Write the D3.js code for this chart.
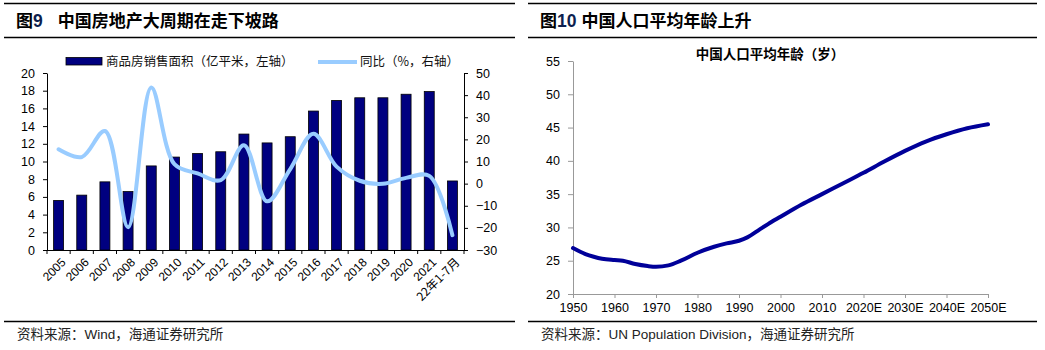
<!DOCTYPE html>
<html><head><meta charset="utf-8">
<script src="https://cdn.jsdelivr.net/npm/d3@7"></script>
<style>
body{margin:0;background:#fff;}
svg{display:block;}
text{font-family:"Liberation Sans",Arial,sans-serif;}
.cjk{font-family:"Noto Sans CJK SC","Liberation Sans",sans-serif;}
</style></head><body>
<svg id="c" width="1045" height="350"></svg>
<script>
// ---------- data ----------
const categories = ["2005","2006","2007","2008","2009","2010","2011","2012","2013","2014","2015","2016","2017","2018","2019","2020","2021","22年1-7月"];
const salesArea = [5.6,6.2,7.7,6.6,9.5,10.5,10.9,11.1,13.1,12.1,12.8,15.7,16.9,17.2,17.2,17.6,17.9,7.8];
const yoy = [15.5,12.0,23.8,-19.7,43.5,8.8,4.6,1.6,17.3,-8.0,6.6,22.5,7.7,1.3,-0.1,2.6,3.5,-23.3];
const leftTicks = [0,2,4,6,8,10,12,14,16,18,20];
const rightTicks = [-30,-20,-10,0,10,20,30,40,50];

const ageYears = [1950,1953,1955,1957,1960,1962,1965,1968,1970,1973,1976,1980,1984,1987,1990,1992,1995,1997,2000,2005,2010,2015,2020,2025,2030,2035,2040,2045,2050];
const meanAge  = [26.9,26.0,25.6,25.3,25.1,25.0,24.5,24.2,24.1,24.3,25.0,26.2,27.1,27.6,28.0,28.5,29.7,30.5,31.6,33.4,35.0,36.6,38.2,39.9,41.5,42.9,44.0,44.9,45.5];
const ageXTicks = [1950,1960,1970,1980,1990,2000,2010,2020,2030,2040,2050];
const ageYTicks = [20,25,30,35,40,45,50,55];

const svg = d3.select("#c");

// ---------- frames ----------
function frame(x0, x1, num, title, source){
  svg.append("line").attr("x1",x0).attr("x2",x1).attr("y1",3.5).attr("y2",3.5).attr("stroke","#000").attr("stroke-width",1.3);
  svg.append("line").attr("x1",x0).attr("x2",x1).attr("y1",37.5).attr("y2",37.5).attr("stroke","#000").attr("stroke-width",1.3);
  svg.append("line").attr("x1",x0).attr("x2",x1).attr("y1",321.5).attr("y2",321.5).attr("stroke","#000").attr("stroke-width",1.3);
  const t = svg.append("text").attr("x",x0+12).attr("y",26.5).attr("font-size",17).attr("font-weight","bold").attr("fill","#000");
  t.append("tspan").attr("class","cjk").text("图");
  t.append("tspan").attr("fill","#0d1f4f").attr("font-family","Liberation Sans, Arial").attr("font-size",17.5).text(num);
  t.append("tspan").attr("class","cjk").attr("dx", num.length===1?15:5).text(title);
  const s = svg.append("text").attr("x",x0+13).attr("y",339).attr("font-size",13.5).attr("fill","#222");
  source.forEach(p=>s.append("tspan").attr("class",p[1]?"cjk":null).text(p[0]));
}
frame(4, 515, "9", "中国房地产大周期在走下坡路", [["资料来源：",1],["Wind",0],["，海通证券研究所",1]]);
frame(528, 1037, "10", "中国人口平均年龄上升", [["资料来源：",1],["UN Population Division",0],["，海通证券研究所",1]]);

// ---------- left chart ----------
const L = {x0:47, x1:464, top:73, bot:250};
const x = d3.scaleBand().domain(categories).range([L.x0, L.x1]).paddingInner(0.57).paddingOuter(0.285);
const yL = d3.scaleLinear().domain([0,20]).range([L.bot, L.top]);
const yR = d3.scaleLinear().domain([-30,50]).range([L.bot, L.top]);

const g1 = svg.append("g");
g1.selectAll("rect.bar").data(salesArea).join("rect").attr("class","bar")
  .attr("x",(d,i)=>x(categories[i])).attr("width",x.bandwidth())
  .attr("y",d=>yL(d)).attr("height",d=>yL(0)-yL(d))
  .attr("fill","#000080").attr("stroke","#000").attr("stroke-width",0.8);

const line1 = d3.line().x((d,i)=>x(categories[i])+x.bandwidth()/2).y(d=>yR(d)).curve(d3.curveCatmullRom.alpha(0.5));
g1.append("path").attr("d",line1(yoy)).attr("fill","none").attr("stroke","#99CCFF").attr("stroke-width",4).attr("stroke-linecap","round");

const axL = g1.append("g").attr("transform",`translate(${L.x0},0)`)
  .call(d3.axisLeft(yL).tickValues(leftTicks).tickSize(4).tickPadding(8).tickSizeOuter(0));
const axR = g1.append("g").attr("transform",`translate(${L.x1},0)`)
  .call(d3.axisRight(yR).tickValues(rightTicks).tickSize(4).tickPadding(8).tickSizeOuter(0));
[axL,axR].forEach(a=>{a.select(".domain").attr("stroke","#000");a.selectAll(".tick line").attr("stroke","#000");
  a.selectAll("text").attr("font-size",12.5).attr("font-family","Liberation Sans, Arial").attr("fill","#000");});

// x axis with ticks at band boundaries
const bounds = d3.range(categories.length+1).map(i=>L.x0 + i*x.step());
g1.append("line").attr("x1",L.x0).attr("x2",L.x1).attr("y1",L.bot+0.5).attr("y2",L.bot+0.5).attr("stroke","#000");
g1.selectAll("line.bt").data(bounds).join("line").attr("class","bt")
  .attr("x1",d=>d).attr("x2",d=>d).attr("y1",L.bot).attr("y2",L.bot+4).attr("stroke","#000");
g1.selectAll("text.xl").data(categories).join("text").attr("class",d=>/年/.test(d)?"xl cjk":"xl")
  .attr("transform",d=>`translate(${x(d)+x.bandwidth()/2+5},${L.bot+10}) rotate(-45)`)
  .attr("text-anchor","end").attr("font-size",12).attr("dy","0.35em").text(d=>d);

// legend
g1.append("rect").attr("x",66).attr("y",57.5).attr("width",36).attr("height",7.5).attr("fill","#000080").attr("stroke","#000").attr("stroke-width",0.8);
g1.append("text").attr("class","cjk").attr("x",106).attr("y",66).attr("font-size",12.5).attr("fill","#111").text("商品房销售面积（亿平米，左轴）");
g1.append("line").attr("x1",318).attr("x2",357).attr("y1",62).attr("y2",62).attr("stroke","#99CCFF").attr("stroke-width",4);
g1.append("text").attr("class","cjk").attr("x",360).attr("y",66).attr("font-size",12.5).attr("fill","#111").text("同比（%，右轴）");

// ---------- right chart ----------
const R = {x0:573, x1:988, top:61, bot:294};
const xa = d3.scaleLinear().domain([1950,2050]).range([R.x0, R.x1]);
const ya = d3.scaleLinear().domain([20,55]).range([R.bot, R.top]);
const g2 = svg.append("g");
const axX = g2.append("g").attr("transform",`translate(0,${R.bot})`)
  .call(d3.axisBottom(xa).tickValues(ageXTicks).tickSize(4).tickPadding(5).tickSizeOuter(0)
  .tickFormat(d=>d>=2020?d+"E":String(d)));
const axY = g2.append("g").attr("transform",`translate(${R.x0},0)`)
  .call(d3.axisLeft(ya).tickValues(ageYTicks).tickSize(5).tickPadding(8).tickSizeOuter(0));
[axX,axY].forEach(a=>{a.select(".domain").attr("stroke","#999");a.selectAll(".tick line").attr("stroke","#999");
  a.selectAll("text").attr("font-size",12.5).attr("font-family","Liberation Sans, Arial").attr("fill","#000");});

const line2 = d3.line().x((d,i)=>xa(ageYears[i])).y(d=>ya(d)).curve(d3.curveMonotoneX);
g2.append("path").attr("d",line2(meanAge)).attr("fill","none").attr("stroke","#000099").attr("stroke-width",4).attr("stroke-linecap","round");

g2.append("text").attr("class","cjk").attr("x",770).attr("y",59).attr("text-anchor","middle")
  .attr("font-size",13.5).attr("font-weight","bold").text("中国人口平均年龄（岁）");
</script></body></html>
